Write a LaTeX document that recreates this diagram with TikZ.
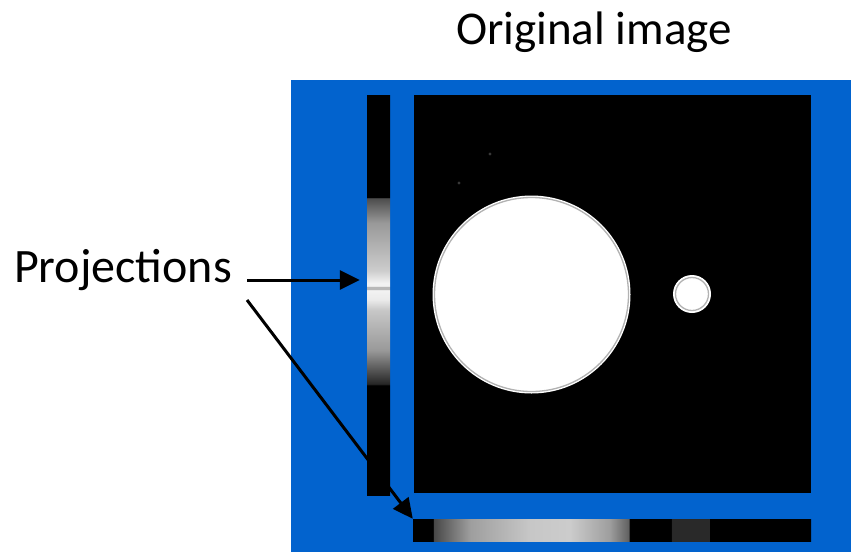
\documentclass[tikz,border=0pt]{standalone}
\usepackage{fontspec}
\setmainfont{Carlito}
\usetikzlibrary{arrows.meta,positioning}

\definecolor{bgblue}{RGB}{2,99,206}

% profile of the row sums (left) and column sums (bottom)
\pgfdeclareverticalshading{vprojshade}{100bp}{%
  color(0bp)=(black); color(38.7bp)=(black);
  color(38.9bp)=(white!15!black); color(43.1bp)=(white!60!black);
  color(48.1bp)=(white!78!black); color(49.4bp)=(white!92!black);
  color(50.6bp)=(white!95!black); color(50.75bp)=(white!72!black);
  color(51bp)=(white!72!black); color(51.15bp)=(white!95!black);
  color(51.5bp)=(white!95!black); color(53.1bp)=(white!80!black);
  color(59bp)=(white!60!black); color(62.1bp)=(white!30!black);
  color(62.2bp)=(black); color(100bp)=(black)}
\pgfdeclarehorizontalshading{hprojshade}{100bp}{%
  color(0bp)=(black); color(27.5bp)=(black);
  color(27.6bp)=(white!28!black); color(32.2bp)=(white!62!black);
  color(39.7bp)=(white!78!black); color(44.7bp)=(white!80!black);
  color(49.7bp)=(white!62!black); color(52.1bp)=(white!38!black);
  color(52.2bp)=(black); color(57.4bp)=(black);
  color(57.5bp)=(white!16!black); color(62.2bp)=(white!16!black);
  color(62.3bp)=(black); color(100bp)=(black)}

\begin{document}
\begin{tikzpicture}[x=1pt, y=-1pt,
  lbl/.style={inner sep=0pt, font=\fontsize{47}{50}\selectfont},
  bar/.style={inner sep=0pt, shade},
  arr/.style={-{Triangle[length=20pt,width=19pt]}, line width=3pt}
]
  \useasboundingbox (0,0) rectangle (851,552);
  \fill[bgblue] (291,80) rectangle (851,552);
  \node[fill=black, inner sep=0pt, minimum width=397pt, minimum height=398pt] (img) at (612.5,294) {};
  \node[bar, shading=vprojshade, minimum width=23pt, minimum height=400pt] (vproj) at (378.5,295) {};
  \node[bar, shading=hprojshade, minimum width=398pt, minimum height=22pt] (hproj) at (612,530) {};
  % the two discs and two stray pixels
  \fill[white] (531.5,294.5) circle (99);
  \draw[white!70!black, line width=1.3pt] (531.5,294.5) circle (97);
  \fill[white] (692,294) circle (19);
  \draw[white!70!black, line width=1.3pt] (692,294) circle (16.5);
  \fill[white!22!black] (490,154) circle (1.6);
  \fill[white!22!black] (459,183) circle (1.6);
  \node[lbl, anchor=base] (title) at (594,44) {Original image};
  \node[lbl, anchor=base east, font=\fontsize{48}{50}\selectfont] (proj) at (232,282) {Projections};
  \draw[arr] ([shift={(15pt,2pt)}]proj.base east) -- ([shift={(-7pt,15pt)}]vproj.west);
  \draw[arr] ([shift={(15pt,-18pt)}]proj.base east) -- (hproj.north west);
\end{tikzpicture}
\end{document}
